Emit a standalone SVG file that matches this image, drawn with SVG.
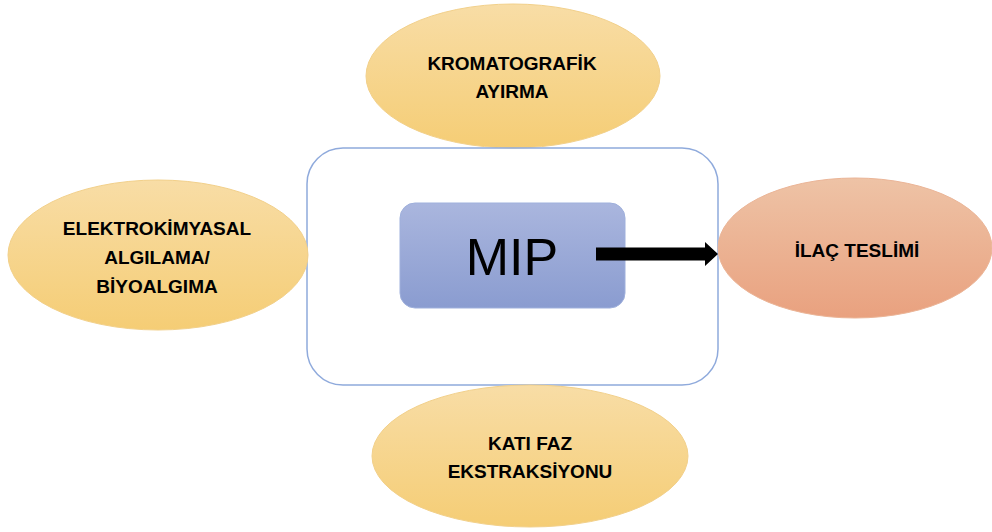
<svg xmlns="http://www.w3.org/2000/svg" width="992" height="532" viewBox="0 0 992 532">
<defs>
<linearGradient id="gy" x1="0" y1="0" x2="0" y2="1">
<stop offset="0" stop-color="#F8DDA6"/>
<stop offset="1" stop-color="#F5CD75"/>
</linearGradient>
<linearGradient id="go" x1="0" y1="0" x2="0" y2="1">
<stop offset="0" stop-color="#EEC3A6"/>
<stop offset="1" stop-color="#E9A17F"/>
</linearGradient>
<linearGradient id="gb" x1="0" y1="0" x2="0" y2="1">
<stop offset="0" stop-color="#AAB6DE"/>
<stop offset="1" stop-color="#8A9CD0"/>
</linearGradient>
<style>
.ey{fill:url(#gy);stroke:#F2D08A;stroke-width:1}
.eo{fill:url(#go);stroke:#EBB597;stroke-width:1}
.t{font-family:"Liberation Sans",Arial,sans-serif;font-weight:bold;font-size:19px;fill:#000;text-anchor:middle}
</style>
</defs>
<rect width="992" height="532" fill="#fff"/>
<g id="kromatografik">
<ellipse class="ey" cx="513" cy="76" rx="147" ry="72"/>
<text class="t" x="512" y="70">KROMATOGRAFİK</text>
<text class="t" x="512" y="98">AYIRMA</text>
</g>
<g id="container">
<rect x="307" y="148" width="411" height="237" rx="36" fill="none" stroke="#8FAADC" stroke-width="1.5"/>
</g>
<g id="elektrokimyasal">
<ellipse class="ey" cx="158" cy="255" rx="150" ry="75"/>
<text class="t" x="157" y="235">ELEKTROKİMYASAL</text>
<text class="t" x="157" y="264">ALGILAMA/</text>
<text class="t" x="157" y="293">BİYOALGIMA</text>
</g>
<g id="ilac">
<ellipse class="eo" cx="855" cy="248" rx="137" ry="70"/>
<text class="t" x="857" y="257">İLAÇ TESLİMİ</text>
</g>
<g id="kati">
<ellipse class="ey" cx="530" cy="456" rx="158" ry="71"/>
<text class="t" x="530" y="450">KATI FAZ</text>
<text class="t" x="530" y="478">EKSTRAKSİYONU</text>
</g>
<g id="mip">
<rect x="400" y="203" width="225" height="105" rx="15" fill="url(#gb)" stroke="#9FB0DC" stroke-width="1"/>
<text x="512" y="275" font-family="Liberation Sans,Arial,sans-serif" font-size="52" text-anchor="middle" fill="#000">MIP</text>
</g>
<g id="connectors">
<polygon points="596,247.5 705,247.5 705,242 718,254 705,266 705,260.5 596,260.5" fill="#000"/>
</g>
</svg>
